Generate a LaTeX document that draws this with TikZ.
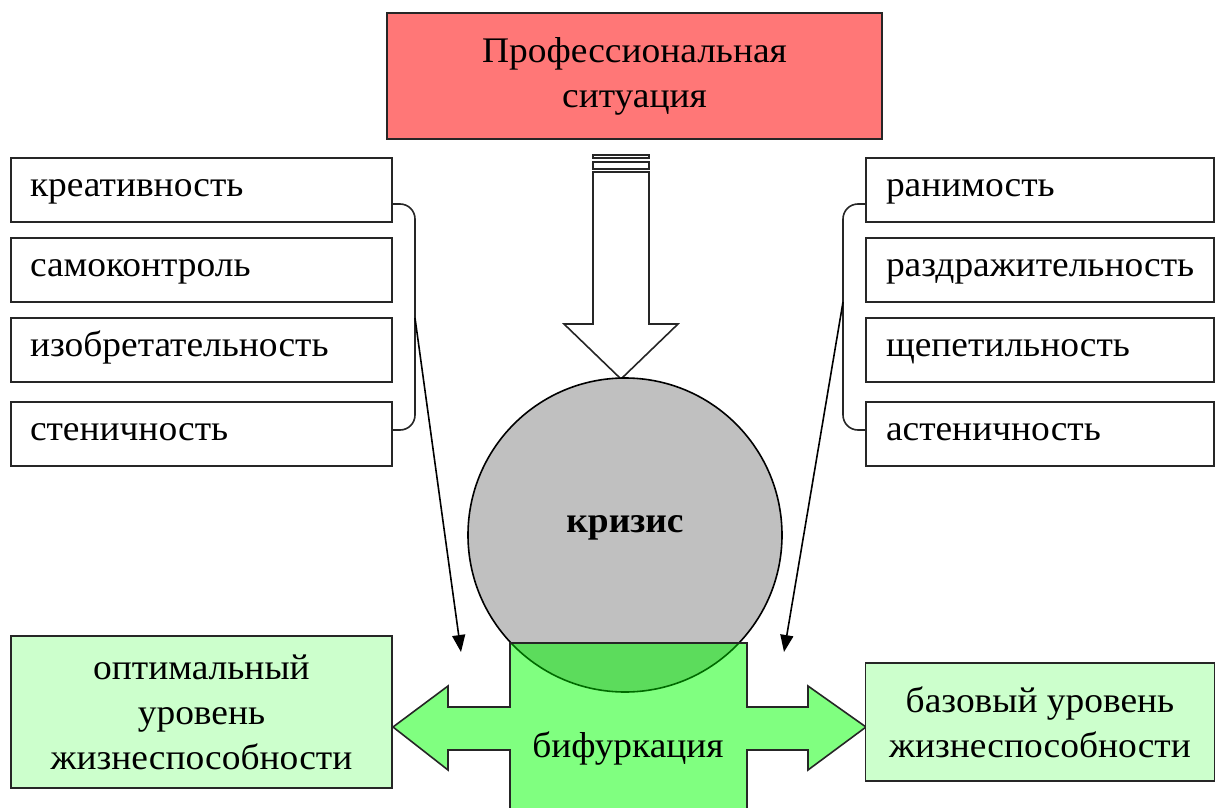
\documentclass[tikz,border=0pt]{standalone}
\usepackage{fontspec}
\setmainfont[FakeStretch=1.04]{Liberation Serif}
\usetikzlibrary{arrows.meta}
\definecolor{redbox}{HTML}{FF7777}
\definecolor{greenshape}{HTML}{80FF80}
\definecolor{overlapgreen}{HTML}{5CDC5C}
\definecolor{lightgreen}{HTML}{CCFFCC}
\definecolor{crisisgray}{HTML}{C0C0C0}
\definecolor{darkline}{HTML}{006A00}
\tikzset{
  txt/.style={font=\fontsize{36}{45}\selectfont},
  leftbox/.style={txt, draw=black!85, line width=1.6pt, fill=white, minimum width=381pt, minimum height=64pt, text width=343pt, inner xsep=19pt, inner ysep=0pt, align=left, text height=20pt, text depth=8pt},
  rightbox/.style={txt, draw=black!85, line width=1.6pt, fill=white, minimum width=348pt, minimum height=64pt, text width=308pt, inner xsep=20pt, inner ysep=0pt, align=left, text height=20pt, text depth=8pt},
  resultbox/.style={txt, draw=black!85, line width=1.6pt, fill=lightgreen, inner sep=0pt, align=center},
  bracket/.style={draw=black!85, line width=1.6pt, rounded corners=15pt},
  thinarrow/.style={draw=black, line width=1.6pt, -{Triangle[length=17pt,width=13pt]}},
  bigshape/.style={draw=black!85, line width=1.6pt}
}
\begin{document}
\begin{tikzpicture}[x=1pt,y=-1pt]
\useasboundingbox (0,0) rectangle (1216,808);
% top box
\node[txt, draw=black!85, line width=1.6pt, fill=redbox, minimum width=495pt, minimum height=126pt, inner sep=0pt, align=center] (situation) at (634.5,76) {Профессиональная\\ситуация};
% left boxes
\node[leftbox] (k1) at (201.5,190) {креативность};
\node[leftbox] (k2) at (201.5,270) {самоконтроль};
\node[leftbox] (k3) at (201.5,350) {изобретательность};
\node[leftbox] (k4) at (201.5,434) {стеничность};
% right boxes
\node[rightbox] (r1) at (1040,190) {ранимость};
\node[rightbox] (r2) at (1040,270) {раздражительность};
\node[rightbox] (r3) at (1040,350) {щепетильность};
\node[rightbox] (r4) at (1040,434) {астеничность};
% brackets
\draw[bracket] (k1.east |- 0,204) -- (415,204) -- (415,430) -- (k4.east |- 0,430);
\draw[bracket] (r1.west |- 0,204) -- (843,204) -- (843,430) -- (r4.west |- 0,430);
\coordinate (lstart) at (415,318);
\coordinate (lend) at (461,652);
\coordinate (rstart) at (843,302);
\coordinate (rend) at (784,652);
\draw[thinarrow] (lstart) -- (lend);
\draw[thinarrow] (rstart) -- (rend);
% down arrow
\draw[bigshape, fill=white] (593,155) rectangle (649,158);
\draw[bigshape, fill=white] (593,162) rectangle (649,169);
\draw[bigshape, fill=white, line join=miter] (593,172) -- (649,172) -- (649,324) -- (678,324) -- (621,379) -- (564,324) -- (593,324) -- cycle;
% crisis circle
\draw[line width=1.6pt, fill=crisisgray] (625,535) circle[radius=157];
% bifurcation shape
\def\bifpath{(510,815) -- (510,750) -- (448,750) -- (448,770) -- (393,727) -- (448,686) -- (448,707) -- (510,707) -- (510,643) -- (747,643) -- (747,707) -- (808,707) -- (808,686) -- (866,727) -- (808,770) -- (808,750) -- (747,750) -- (747,815)}
\fill[greenshape] \bifpath -- cycle;
\begin{scope}
  \clip \bifpath -- cycle;
  \fill[overlapgreen] (625,535) circle[radius=157];
  \draw[darkline, line width=1.6pt] (625,535) circle[radius=157];
\end{scope}
\draw[bigshape, line join=miter] \bifpath;
\node[txt] (crisis) at (625,528) {\textbf{кризис}};
\node[txt, anchor=base] (bif) at (628,757) {бифуркация};
% result boxes
\node[resultbox, minimum width=381pt, minimum height=152pt] (optimal) at (201.5,712) {оптимальный\\уровень\\жизнеспособности};
\node[resultbox, minimum width=349pt, minimum height=118pt] (basic) at (1040,722) {базовый уровень\\жизнеспособности};
\end{tikzpicture}
\end{document}
